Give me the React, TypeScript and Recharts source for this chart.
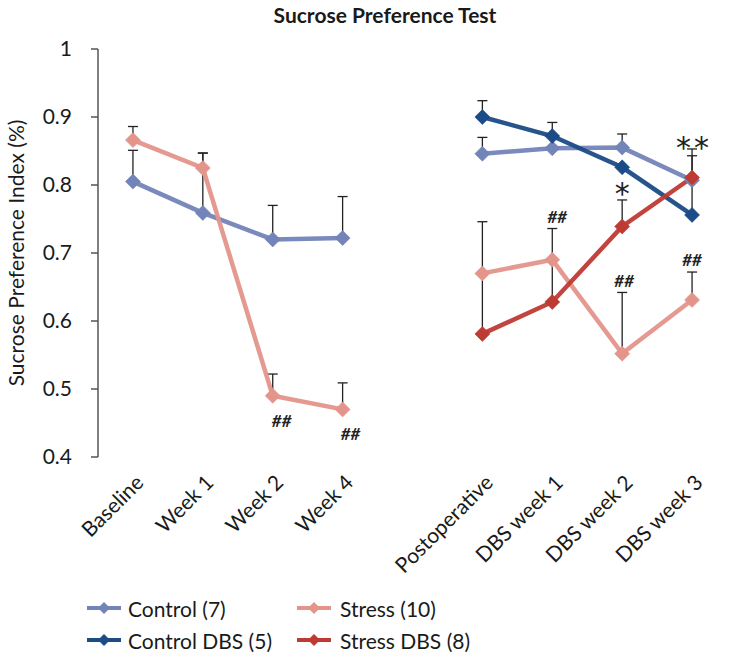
import React from 'react';
import { LineChart, Line, XAxis, YAxis, ErrorBar, ReferenceDot, Legend } from 'recharts';

const FONT = 'Lato, "Noto Sans", sans-serif';

const categories = ['Baseline', 'Week 1', 'Week 2', 'Week 4', '', 'Postoperative', 'DBS week 1', 'DBS week 2', 'DBS week 3'];

const control = [0.805, 0.759, 0.72, 0.722, null, 0.846, 0.854, 0.855, 0.807];
const controlTop = [0.851, 0.847, 0.77, 0.783, null, 0.87, null, 0.875, null];

const stress = [0.866, 0.825, 0.49, 0.47, null, 0.67, 0.69, 0.552, 0.631];
const stressTop = [0.886, 0.847, 0.522, 0.509, null, null, null, 0.642, 0.672];

const controlDbs = [null, null, null, null, null, 0.9, 0.872, 0.826, 0.756];
const controlDbsTop = [null, null, null, null, null, 0.924, 0.892, null, 0.843];

const stressDbs = [null, null, null, null, null, 0.581, 0.628, 0.739, 0.811];
const stressDbsTop = [null, null, null, null, null, 0.746, 0.736, 0.778, 0.853];

const yTicks = [0.4, 0.5, 0.6, 0.7, 0.8, 0.9, 1];

const annotations = [
  { cat: 2, value: 0.454, text: '##', dx: 9 },
  { cat: 3, value: 0.435, text: '##', dx: 8 },
  { cat: 6, value: 0.754, text: '##', dx: 5 },
  { cat: 7, value: 0.794, text: '*', dx: 0 },
  { cat: 7, value: 0.66, text: '##', dx: 2 },
  { cat: 8, value: 0.69, text: '##', dx: 0 },
  { cat: 8, value: 0.862, text: '**', dx: 2 },
];

const series = [
  { key: 'control', name: 'Control (7)', color: '#7384B8', values: control, tops: controlTop },
  { key: 'stress', name: 'Stress (10)', color: '#E3958B', values: stress, tops: stressTop },
  { key: 'controlDbs', name: 'Control DBS (5)', color: '#1C4B86', values: controlDbs, tops: controlDbsTop },
  { key: 'stressDbs', name: 'Stress DBS (8)', color: '#BE3B34', values: stressDbs, tops: stressDbsTop },
];

const errOf = (v: number | null, top: number | null) =>
  v == null || top == null ? undefined : [0, top - v];

const data = categories.map((name, i) => {
  const row: any = { pos: i + 0.5, name };
  series.forEach((s) => {
    row[s.key] = s.values[i];
    row[s.key + 'Err'] = errOf(s.values[i], s.tops[i]);
  });
  return row;
});

const boundaryTicks = categories.map((_, i) => i).concat([categories.length]);
const labelTicks = categories.map((c, i) => (c ? i + 0.5 : null)).filter((v) => v != null) as number[];

const Diamond = (color: string) => (props: any) => {
  const { cx, cy, index } = props;
  if (cx == null || cy == null || props.value == null) return <g key={index} />;
  const r = 7.5;
  return (
    <path
      key={index}
      d={`M${cx},${cy - r} L${cx + r},${cy} L${cx},${cy + r} L${cx - r},${cy} Z`}
      fill={color}
      stroke={color}
      strokeOpacity={0.6}
      strokeWidth={1}
    />
  );
};

const RotTick = (props: any) => {
  const { x, y, payload } = props;
  const name = categories[Math.floor(payload.value)];
  const ax = x + 12;
  const ay = y + 27;
  return (
    <text
      x={ax}
      y={ay}
      transform={`rotate(-45, ${ax}, ${ay})`}
      textAnchor="end"
      fontSize={21}
      fontFamily={FONT}
      fill="#1a1a1a"
    >
      {name}
    </text>
  );
};

const YLabel = (props: any) => {
  const vb = props.viewBox || { x: 0, y: 0, width: 0, height: 0 };
  const cx = vb.x + 15;
  const cy = vb.y + vb.height / 2;
  return (
    <text
      x={cx}
      y={cy}
      transform={`rotate(-90, ${cx}, ${cy})`}
      textAnchor="middle"
      dominantBaseline="central"
      fontSize={21}
      fontFamily={FONT}
      fill="#1a1a1a"
    >
      Sucrose Preference Index (%)
    </text>
  );
};

const LegendContent = () => {
  const cols = [87, 297];
  const rows = [5, 37];
  return (
    <div style={{ position: 'relative', width: 731, height: 70, fontFamily: FONT, fontSize: 21, color: '#1a1a1a' }}>
      {series.map((s, i) => {
        const col = cols[i % 2];
        const row = rows[Math.floor(i / 2)];
        return (
          <div
            key={s.key}
            style={{ position: 'absolute', left: col, top: row, height: 26, display: 'flex', alignItems: 'center', whiteSpace: 'nowrap' }}
          >
            <svg width={34} height={16} style={{ marginRight: i % 2 === 0 ? 7 : 9 }}>
              <line x1={0} y1={8} x2={34} y2={8} stroke={s.color} strokeWidth={4} />
              <path d="M17,2 L23,8 L17,14 L11,8 Z" fill={s.color} />
            </svg>
            <span>{s.name}</span>
          </div>
        );
      })}
    </div>
  );
};

const Annotation = (a: { text: string; dx: number }) => (p: any) => {
  const isHash = a.text === '##';
  if (isHash) {
    return (
      <text
        x={p.cx + a.dx}
        y={p.cy}
        textAnchor="middle"
        dominantBaseline="central"
        fontSize={17}
        fontStyle="italic"
        fontWeight={700}
        fontFamily={FONT}
        fill="#222"
      >
        {a.text}
      </text>
    );
  }
  const fs = 30;
  return (
    <text
      x={p.cx + a.dx}
      y={p.cy + fs * 0.5}
      textAnchor="middle"
      fontSize={fs}
      letterSpacing={a.text.length > 1 ? 3 : 0}
      fontFamily={'"DejaVu Sans", sans-serif'}
      fill="#222"
    >
      {a.text}
    </text>
  );
};

export default function App() {
  return (
    <div style={{ position: 'absolute', left: 0, top: 0, width: 731, height: 667, background: '#fff' }}>
      <div
        style={{
          position: 'absolute',
          left: 0,
          top: 2,
          width: 770,
          textAlign: 'center',
          fontFamily: FONT,
          fontWeight: 700,
          fontSize: 21,
          color: '#1a1a1a',
        }}
      >
        Sucrose Preference Test
      </div>
      <LineChart
        width={731}
        height={667}
        data={data}
        margin={{ top: 49, right: 4, bottom: 100, left: 0 }}
      >
        <XAxis
          xAxisId="ticks"
          type="number"
          dataKey="pos"
          domain={[0, 9]}
          ticks={boundaryTicks}
          interval={0}
          tick={false}
          tickSize={7}
          height={0}
          axisLine={{ stroke: '#555', strokeWidth: 1.5 }}
          tickLine={{ stroke: '#555', strokeWidth: 1.5 }}
        />
        <XAxis
          xAxisId="lab"
          type="number"
          dataKey="pos"
          domain={[0, 9]}
          ticks={labelTicks}
          interval={0}
          tickSize={0}
          tickMargin={0}
          tickLine={false}
          axisLine={false}
          height={110}
          tick={<RotTick />}
        />
        <YAxis
          type="number"
          domain={[0.4, 1]}
          ticks={yTicks}
          interval={0}
          width={98}
          tickSize={7}
          tickMargin={19}
          tickFormatter={(v: number) => (v === 1 ? '1' : v.toFixed(1))}
          tick={{ fontSize: 21, fontFamily: FONT, fill: '#1a1a1a' }}
          axisLine={{ stroke: '#555', strokeWidth: 1.5 }}
          tickLine={{ stroke: '#555', strokeWidth: 1.5 }}
          label={<YLabel />}
        />
        {series.map((s) => (
          <Line
            key={s.key}
            xAxisId="lab"
            type="linear"
            dataKey={s.key}
            name={s.name}
            stroke={s.color}
            strokeWidth={4.5}
            strokeOpacity={0.95}
            dot={Diamond(s.color)}
            activeDot={false}
            isAnimationActive={false}
            connectNulls={false}
          >
            <ErrorBar dataKey={s.key + 'Err'} width={5} stroke="#222" strokeWidth={1.3} direction="y" />
          </Line>
        ))}
        {annotations.map((a, i) => (
          <ReferenceDot
            key={i}
            xAxisId="lab"
            x={a.cat + 0.5}
            y={a.value}
            r={0}
            ifOverflow="visible"
            shape={Annotation(a)}
          />
        ))}
        <Legend
          layout="vertical"
          align="center"
          verticalAlign="middle"
          wrapperStyle={{ left: 0, top: 590, width: 731, height: 70 }}
          content={<LegendContent />}
        />
      </LineChart>
    </div>
  );
}
